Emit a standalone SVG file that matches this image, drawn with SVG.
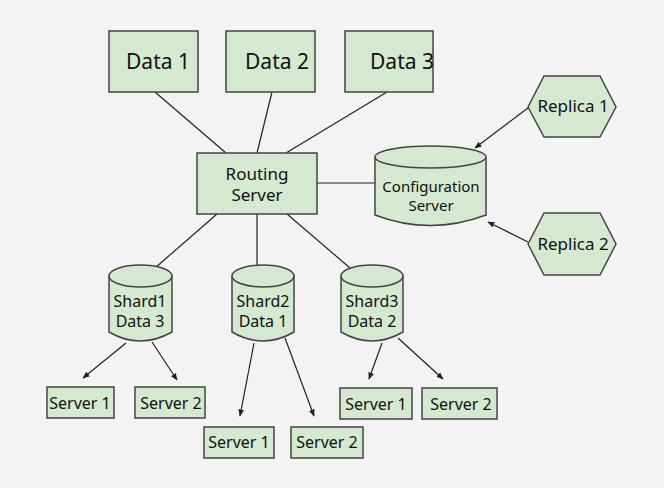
<svg xmlns="http://www.w3.org/2000/svg" width="664" height="488" viewBox="0 0 664 488">
<defs>
<style>
.n{fill:#d5e8d0;stroke:#444;stroke-width:1.5}
.t{font-family:"Noto Sans",sans-serif;fill:#111;text-anchor:middle}
.c{stroke:#222;stroke-width:1.2;fill:none}
</style>
<marker id="a" viewBox="0 0 10 10" refX="9" refY="5" markerWidth="6" markerHeight="6" orient="auto"><path d="M0,1 L10,5 L0,9 z" fill="#222"/></marker>
</defs>
<rect width="664" height="488" fill="#f3f3f3"/>
<g id="connectors">
<line class="c" x1="155" y1="92" x2="226" y2="153"/>
<line class="c" x1="272" y1="92" x2="257" y2="153"/>
<line class="c" x1="387" y1="92" x2="286" y2="153"/>
<line class="c" x1="317" y1="183" x2="375" y2="183"/>
<line class="c" x1="217" y1="214" x2="155" y2="268"/>
<line class="c" x1="257" y1="214" x2="257" y2="266"/>
<line class="c" x1="287" y1="214" x2="350" y2="268"/>
<line class="c" x1="528" y1="108" x2="475" y2="148" marker-end="url(#a)"/>
<line class="c" x1="528" y1="242" x2="488" y2="222" marker-end="url(#a)"/>
<line class="c" x1="126" y1="343" x2="83" y2="378" marker-end="url(#a)"/>
<line class="c" x1="152" y1="342" x2="177" y2="380" marker-end="url(#a)"/>
<line class="c" x1="254" y1="343" x2="240" y2="416" marker-end="url(#a)"/>
<line class="c" x1="285" y1="338" x2="314" y2="416" marker-end="url(#a)"/>
<line class="c" x1="382" y1="343" x2="369" y2="379" marker-end="url(#a)"/>
<line class="c" x1="398" y1="338" x2="443" y2="379" marker-end="url(#a)"/>
</g>
<g id="data1"><rect class="n" x="109" y="31" width="89" height="61"/><text class="t" x="158" y="69" font-size="21">Data 1</text></g>
<g id="data2"><rect class="n" x="226" y="31" width="89" height="61"/><text class="t" x="277" y="69" font-size="21">Data 2</text></g>
<g id="data3"><rect class="n" x="345" y="31" width="88" height="61"/><text class="t" x="402" y="69" font-size="21">Data 3</text></g>
<g id="routing"><rect class="n" x="197" y="153" width="120" height="61"/><text class="t" x="257" y="180" font-size="17">Routing</text><text class="t" x="257" y="201" font-size="17">Server</text></g>
<g id="config"><path class="n" d="M375,157 L375,215 Q430,236 486,215 L486,157"/><ellipse class="n" cx="430.5" cy="157" rx="55.5" ry="11"/><text class="t" x="431" y="192" font-size="15">Configuration</text><text class="t" x="431" y="211" font-size="15">Server</text></g>
<g id="replica1"><polygon class="n" points="528,107 544,76 600,76 616,107 600,137 544,137"/><text class="t" x="573" y="112" font-size="17">Replica 1</text></g>
<g id="replica2"><polygon class="n" points="528,244 544,213 600,213 616,244 600,275 544,275"/><text class="t" x="573" y="250" font-size="17">Replica 2</text></g>
<g id="shard1"><path class="n" d="M109,276 L109,332 Q140,350 172,332 L172,276"/><ellipse class="n" cx="140.5" cy="276" rx="31.5" ry="11"/><text class="t" x="140" y="307" font-size="16">Shard1</text><text class="t" x="140" y="327" font-size="16">Data 3</text></g>
<g id="shard2"><path class="n" d="M232,276 L232,332 Q263,350 294,332 L294,276"/><ellipse class="n" cx="263" cy="276" rx="31" ry="11"/><text class="t" x="263" y="307" font-size="16">Shard2</text><text class="t" x="263" y="327" font-size="16">Data 1</text></g>
<g id="shard3"><path class="n" d="M341,276 L341,332 Q372,350 403,332 L403,276"/><ellipse class="n" cx="372" cy="276" rx="31" ry="11"/><text class="t" x="372" y="307" font-size="16">Shard3</text><text class="t" x="372" y="327" font-size="16">Data 2</text></g>
<g id="s1a"><rect class="n" x="47" y="387" width="67" height="31"/><text class="t" x="80" y="409" font-size="16">Server 1</text></g>
<g id="s1b"><rect class="n" x="135" y="387" width="70" height="31"/><text class="t" x="171" y="409" font-size="16">Server 2</text></g>
<g id="s2a"><rect class="n" x="204" y="427" width="70" height="31"/><text class="t" x="239" y="448" font-size="16">Server 1</text></g>
<g id="s2b"><rect class="n" x="291" y="427" width="72" height="31"/><text class="t" x="327" y="448" font-size="16">Server 2</text></g>
<g id="s3a"><rect class="n" x="340" y="388" width="72" height="31"/><text class="t" x="376" y="410" font-size="16">Server 1</text></g>
<g id="s3b"><rect class="n" x="422" y="388" width="75" height="31"/><text class="t" x="461" y="410" font-size="16">Server 2</text></g>
</svg>
